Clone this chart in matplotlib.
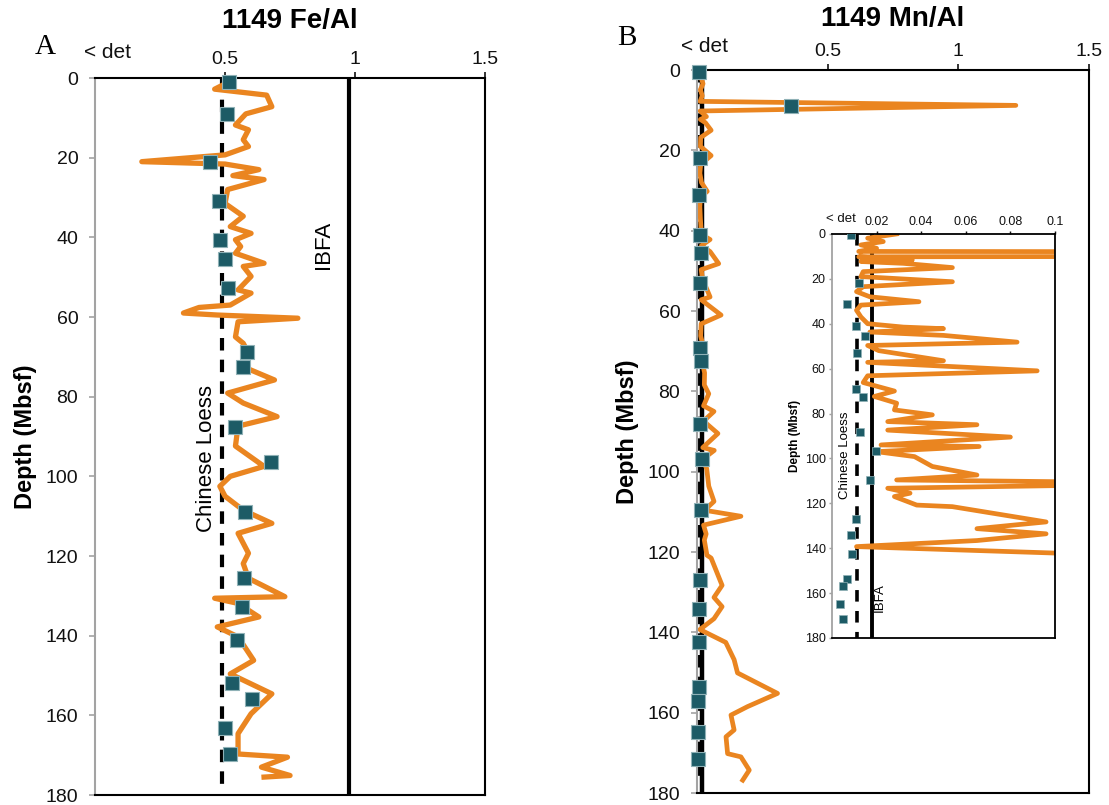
import matplotlib
matplotlib.use("Agg")
import matplotlib.pyplot as plt

plt.rcParams['font.family'] = ['Liberation Sans', 'DejaVu Sans']

# ---------------------------------------------------------------- data
# Fe/Al, site 1149 (depth in mbsf, ratio)
fe_depth = [0.5, 2.8, 4.3, 7.2, 9.0, 11.8, 13.0, 15.5, 17.2, 19.3, 21.0, 21.6,
            23.0, 24.5, 25.5, 28.0, 31.5, 34.7, 37.3, 39.0, 40.6, 42.3, 44.0,
            46.5, 47.3, 49.8, 53.2, 54.0, 57.0, 57.6, 59.0, 59.5, 60.3, 61.2,
            65.0, 66.6, 69.1, 72.5, 75.8, 79.1, 81.6, 85.0, 87.4, 92.4, 97.5,
            100.0, 102.5, 105.0, 108.5, 111.8, 114.3, 119.3, 121.9, 125.6,
            130.2, 130.6, 131.9, 135.3, 137.8, 140.3, 146.2, 149.6, 154.6,
            159.6, 164.6, 169.7, 170.5, 173.0, 175.1, 175.5]
fe_ratio = [0.53, 0.46, 0.66, 0.68, 0.58, 0.54, 0.59, 0.57, 0.59, 0.50, 0.18, 0.50,
            0.63, 0.53, 0.65, 0.51, 0.50, 0.57, 0.52, 0.60, 0.54, 0.56, 0.54,
            0.65, 0.57, 0.60, 0.55, 0.60, 0.52, 0.40, 0.34, 0.47, 0.78, 0.55,
            0.54, 0.57, 0.59, 0.57, 0.69, 0.51, 0.57, 0.70, 0.55, 0.54, 0.65,
            0.52, 0.48, 0.50, 0.57, 0.68, 0.55, 0.59, 0.57, 0.59,
            0.73, 0.46, 0.55, 0.63, 0.47, 0.55, 0.61, 0.52, 0.68,
            0.60, 0.55, 0.55, 0.74, 0.64, 0.75, 0.65]

fe_sq_depth = [1.0, 9.0, 21.0, 31.0, 40.6, 45.4, 52.6, 68.8, 72.5, 87.5, 96.3,
               109.0, 125.6, 132.7, 141.1, 152.0, 155.8, 163.3, 169.6]
fe_sq_ratio = [0.515, 0.508, 0.442, 0.477, 0.48, 0.50, 0.51, 0.585, 0.568, 0.54,
               0.677, 0.577, 0.574, 0.564, 0.546, 0.525, 0.603, 0.501, 0.519]

# Mn/Al, site 1149
mn_depth = [0.0, 1.9, 3.4, 4.9, 6.4, 7.8, 8.8, 10.2, 11.6, 12.3, 13.1, 15.0,
            16.8, 19.0, 21.3, 23.5, 25.7, 28.0, 30.2, 31.7, 34.0, 37.0, 40.0,
            41.5, 42.2, 43.7, 45.2, 48.2, 49.7, 52.0, 56.5, 57.2, 61.0, 63.2,
            66.2, 70.0, 72.4, 75.4, 78.4, 80.6, 83.6, 85.0, 87.4, 90.5, 94.0,
            94.7, 97.0, 99.2, 103.6, 107.4, 109.6, 111.1, 113.3, 115.5, 117.0,
            120.8, 121.5, 128.3, 131.3, 133.6, 136.6, 139.3, 142.5, 146.8,
            150.1, 155.2, 158.5, 160.6, 164.3, 166.0, 170.2, 171.0, 174.3, 176.8]
mn_ratio = [0.029, 0.016, 0.023, 0.013, 0.020, 0.012, 1.22, 0.012, 0.036, 0.013, 0.032, 0.054,
            0.014, 0.013, 0.054, 0.014, 0.011, 0.017, 0.039, 0.013, 0.011, 0.013, 0.016,
            0.032, 0.050, 0.017, 0.050, 0.083, 0.016, 0.021, 0.050, 0.016, 0.092, 0.016,
            0.014, 0.028, 0.019, 0.029, 0.028, 0.045, 0.025, 0.065, 0.025, 0.080, 0.022,
            0.066, 0.020, 0.037, 0.045, 0.065, 0.029, 0.168, 0.025, 0.035, 0.028,
            0.038, 0.054, 0.096, 0.065, 0.096, 0.065, 0.011, 0.110, 0.142,
            0.155, 0.308, 0.193, 0.130, 0.142, 0.111, 0.117, 0.168, 0.200, 0.175]

mn_sq_depth = [0.6, 8.9, 21.8, 31.0, 41.0, 45.5, 52.9, 69.2, 72.5, 88.1, 96.8,
               109.6, 126.9, 134.3, 142.5, 153.6, 157.0, 164.9, 171.5]
mn_sq_ratio = [0.0085, 0.36, 0.0123, 0.0066, 0.0108, 0.0148, 0.0114, 0.0108, 0.0138,
               0.0126, 0.0197, 0.017, 0.0108, 0.0085, 0.0092, 0.0066, 0.0051, 0.0036, 0.0048]

# reference end-members
fe_loess, fe_ibfa = 0.49, 0.975
mn_loess, mn_ibfa = 0.0112, 0.018

# ---------------------------------------------------------------- style
ORANGE = '#ea8520'
TEAL = '#1d5b66'
TEAL_EDGE = '#8fb1b6'
GRAY = '#a3a3a3'

fig = plt.figure(figsize=(11.09, 8.05), dpi=100)
fig.patch.set_facecolor('white')


def style_axis(ax, xmax, xticks, xlabels, tick_fs, det_fs, det_xy, lw=1.5, tlen=4, ypad=3):
    ax.set_xlim(0, xmax)
    ax.set_ylim(180, 0)
    ax.xaxis.tick_top()
    ax.set_xticks(xticks)
    ax.set_xticklabels(xlabels)
    ax.set_yticks(range(0, 181, 20))
    ax.tick_params(axis='x', direction='out', length=tlen, width=lw * 0.8,
                   labelsize=tick_fs, colors='#111111', pad=3)
    ax.tick_params(axis='y', direction='out', length=tlen, width=lw * 0.8,
                   labelsize=tick_fs, color=GRAY, labelcolor='#111111', pad=ypad)
    for s in ['top', 'right', 'bottom']:
        ax.spines[s].set_color('black')
        ax.spines[s].set_linewidth(lw)
    ax.spines['left'].set_color(GRAY)
    ax.spines['left'].set_linewidth(lw)
    ax.text(det_xy[0], det_xy[1], '< det', transform=ax.transAxes,
            fontsize=det_fs, ha='center', va='center', color='#111111')


# ---------------------------------------------------------------- panel A
axA = fig.add_axes([0.0857, 0.0124, 0.3517, 0.8907])
axA.plot(fe_ratio, fe_depth, color=ORANGE, lw=3.8, solid_joinstyle='round', zorder=2)
axA.plot([fe_loess, fe_loess], [0, 178], color='black', lw=3, ls=(0, (3, 2.2)), zorder=1)
axA.axvline(fe_ibfa, color='black', lw=3, zorder=1)
axA.plot(fe_sq_ratio, fe_sq_depth, ls='none', marker='s', ms=10, mfc=TEAL,
         mec=TEAL_EDGE, mew=0.8, zorder=3, clip_on=False)
axA.text(0.43, 95.4, 'Chinese Loess', rotation=90, fontsize=16, ha='center', va='center')
axA.text(0.88, 42, 'IBFA', rotation=90, fontsize=16, ha='center', va='center')
style_axis(axA, 1.5, [0.5, 1, 1.5], ['0.5', '1', '1.5'], 14, 15, (0.031, 1.036), ypad=8)
axA.set_ylabel('Depth (Mbsf)', fontsize=17, fontweight='bold', labelpad=6)

# ---------------------------------------------------------------- panel B
axB = fig.add_axes([0.6285, 0.0149, 0.3535, 0.8981])
axB.plot(mn_ratio, mn_depth, color=ORANGE, lw=3.4, solid_joinstyle='round', zorder=2)
axB.plot([mn_loess, mn_loess], [0, 178], color='black', lw=3, ls=(0, (3, 2.2)), zorder=1)
axB.axvline(mn_ibfa, color='black', lw=3.2, zorder=1)
axB.plot(mn_sq_ratio, mn_sq_depth, ls='none', marker='s', ms=10, mfc=TEAL,
         mec=TEAL_EDGE, mew=0.8, zorder=3, clip_on=False)
style_axis(axB, 1.5, [0.5, 1, 1.5], ['0.5', '1', '1.5'], 14, 15, (0.018, 1.033), ypad=8)
axB.set_ylabel('Depth (Mbsf)', fontsize=17, fontweight='bold', labelpad=6)

# ---------------------------------------------------------------- inset
axI = fig.add_axes([0.7502, 0.2075, 0.2011, 0.5019])
axI.set_facecolor('white')
axI.plot(mn_ratio, mn_depth, color=ORANGE, lw=3.4, solid_joinstyle='round', zorder=2)
axI.plot([mn_loess, mn_loess], [0, 180], color='black', lw=2.6, ls=(0, (3.2, 2.6)), zorder=1)
axI.axvline(mn_ibfa, color='black', lw=2.8, zorder=1)
axI.plot(mn_sq_ratio, mn_sq_depth, ls='none', marker='s', ms=5.2, mfc=TEAL,
         mec=TEAL_EDGE, mew=0.5, zorder=3, clip_on=True)
axI.text(0.0058, 98.5, 'Chinese Loess', rotation=90, fontsize=9.5, ha='center', va='center')
axI.text(0.0215, 162, 'IBFA', rotation=90, fontsize=9.5, ha='center', va='center')
style_axis(axI, 0.1, [0.02, 0.04, 0.06, 0.08, 0.1],
           ['0.02', '0.04', '0.06', '0.08', '0.1'], 9, 9.5, (0.04, 1.037),
           lw=1.3, tlen=2.5, ypad=2)
axI.tick_params(axis='x', pad=2)
axI.set_ylabel('Depth (Mbsf)', fontsize=8.5, fontweight='bold', labelpad=3)

# ---------------------------------------------------------------- titles & letters
fig.text(290 / 1109, 1 - 21 / 805, '1149 Fe/Al', fontsize=20, fontweight='bold',
         ha='center', va='center')
fig.text(893 / 1109, 1 - 19 / 805, '1149 Mn/Al', fontsize=20, fontweight='bold',
         ha='center', va='center')
fig.text(45 / 1109, 1 - 47 / 805, 'A', fontsize=21, family='Liberation Serif',
         ha='center', va='center')
fig.text(627 / 1109, 1 - 38 / 805, 'B', fontsize=21, family='Liberation Serif',
         ha='center', va='center')

fig.savefig('out.png', dpi=100, facecolor='white')
